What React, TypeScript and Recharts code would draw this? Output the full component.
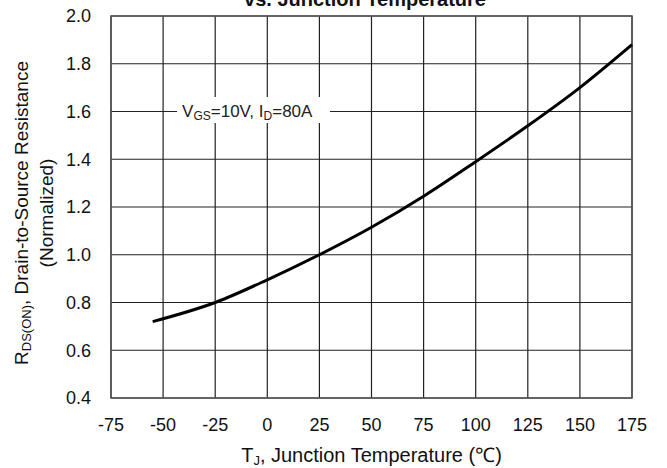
import { CartesianGrid, Line, LineChart, ReferenceArea, XAxis, YAxis } from 'recharts'

const temps = [-55, -25, 0, 25, 50, 75, 100, 125, 150, 175]
const rdsNorm = [0.72, 0.8, 0.895, 1.0, 1.115, 1.245, 1.39, 1.54, 1.7, 1.88]

const xTicks = [-75, -50, -25, 0, 25, 50, 75, 100, 125, 150, 175]
const yTicks = [0.4, 0.6, 0.8, 1.0, 1.2, 1.4, 1.6, 1.8, 2.0]

// box behind the test-condition note, in data units
const noteBox = { x1: -43.3, x2: 30.1, y1: 1.552, y2: 1.661 }

const FONT = '"Liberation Sans", Arial, sans-serif'
const TEXT = '#111'
const GRID = '#222'

const data = temps.map((t, i) => ({ t, r: rdsNorm[i] }))

const NoteLabel = (props: any) => {
  const { x, y, height } = props.viewBox
  return (
    <text x={x + 5} y={y + height - 6} fontFamily={FONT} fontSize={17} fill="#222">
      V<tspan fontSize={12} dy={3}>GS</tspan>
      <tspan dy={-3}>=10V, I</tspan>
      <tspan fontSize={12} dy={3}>D</tspan>
      <tspan dy={-3}>=80A</tspan>
    </text>
  )
}

const YTitle = (props: any) => {
  const { y, height } = props.viewBox
  const cy = y + height / 2 + 6
  return (
    <g fontFamily={FONT} fontSize={19} fill={TEXT}>
      <text x={0} y={0} textAnchor="middle" transform={`translate(28, ${cy}) rotate(-90)`}>
        R<tspan fontSize={13} dy={3}>DS(ON)</tspan>
        <tspan dy={-3}>, Drain-to-Source Resistance</tspan>
      </text>
      <text x={0} y={0} textAnchor="middle" transform={`translate(53, ${cy}) rotate(-90)`}>
        (Normalized)
      </text>
    </g>
  )
}

const XTitle = (props: any) => {
  const { x, y, width } = props.viewBox
  return (
    <text x={x + width / 2} y={y + 64} textAnchor="middle" fontFamily={FONT} fontSize={20} fill={TEXT}>
      T<tspan fontSize={13} dy={3}>J</tspan>
      <tspan dy={-3}>, Junction Temperature (℃)</tspan>
    </text>
  )
}

export default function App() {
  return (
    <div style={{ position: 'absolute', left: 0, top: 0, width: 667, height: 468, background: '#fff', overflow: 'hidden' }}>
      <div
        style={{
          position: 'absolute', left: 0, width: 730, top: -11, textAlign: 'center',
          fontFamily: FONT, fontWeight: 'bold', fontSize: 20, color: TEXT, lineHeight: '20px',
        }}
      >
        vs. Junction Temperature
      </div>
      <LineChart width={667} height={468} data={data} margin={{ top: 16, right: 35, bottom: 0, left: 0 }}>
        <CartesianGrid stroke={GRID} strokeWidth={1.2} />
        <XAxis
          dataKey="t"
          type="number"
          domain={[-75, 175]}
          ticks={xTicks}
          height={70}
          axisLine={false}
          tickLine={false}
          tick={{ fontSize: 18, fill: TEXT, fontFamily: FONT }}
          tickMargin={14}
          interval={0}
          label={<XTitle />}
        />
        <YAxis
          type="number"
          domain={[0.4, 2.0]}
          ticks={yTicks}
          width={111}
          axisLine={false}
          tickLine={false}
          tick={{ fontSize: 18, fill: TEXT, fontFamily: FONT }}
          tickFormatter={(v: number) => v.toFixed(1)}
          tickMargin={14}
          interval={0}
          label={<YTitle />}
        />
        <ReferenceArea
          x1={-75}
          x2={175}
          y1={0.4}
          y2={2.0}
          fill="none"
          stroke="#555"
          strokeWidth={1.6}
          fillOpacity={0}
        />
        <ReferenceArea
          x1={noteBox.x1}
          x2={noteBox.x2}
          y1={noteBox.y1}
          y2={noteBox.y2}
          fill="#fff"
          fillOpacity={1}
          stroke="none"
          label={<NoteLabel />}
        />
        <Line
          type="monotone"
          dataKey="r"
          stroke="#000"
          strokeWidth={3}
          dot={false}
          isAnimationActive={false}
        />
      </LineChart>
    </div>
  )
}
